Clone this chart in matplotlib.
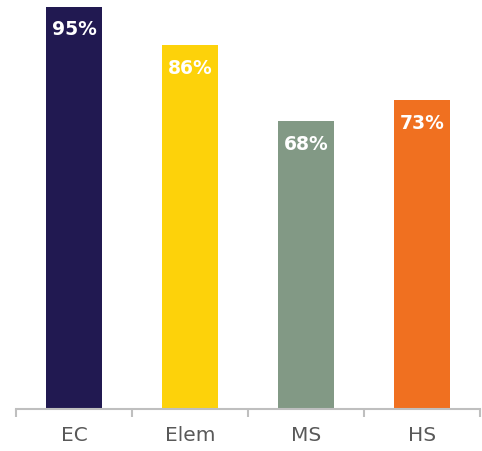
import matplotlib.pyplot as plt
import numpy as np

# Data
categories = ['EC', 'Elem', 'MS', 'HS']
values = [95, 86, 68, 73]
colors = ['#211951', '#FDD20A', '#829985', '#F07020']

fig = plt.figure(figsize=(4.82, 4.51), dpi=100)
ax = fig.add_axes([16 / 482, 1 - 409 / 451, 464 / 482, 402 / 451])

x = np.arange(len(categories))
bars = ax.bar(x, values, width=0.48, color=colors, zorder=2)

for xi, v in zip(x, values):
    ax.annotate(f'{v}%', xy=(xi, v), xytext=(0, -16.5), textcoords='offset points',
                ha='center', va='center', color='white', fontsize=13.5,
                fontweight='bold', family='DejaVu Sans')

ax.set_xlim(-0.5, len(categories) - 0.5)
ax.set_ylim(0, 95)

for s in ['top', 'right', 'left']:
    ax.spines[s].set_visible(False)
ax.spines['bottom'].set_color('#BFBFBF')
ax.spines['bottom'].set_linewidth(1.5)

ax.set_yticks([])
ax.set_xticks(x)
ax.set_xticklabels(categories, fontsize=14.5, color='#595959', family='DejaVu Sans')
ax.tick_params(axis='x', which='major', length=0, pad=12)
ax.set_xticks(np.arange(-0.5, len(categories)), minor=True)
ax.tick_params(axis='x', which='minor', length=6, width=1.5, color='#BFBFBF')

fig.savefig('out.png', dpi=100)
